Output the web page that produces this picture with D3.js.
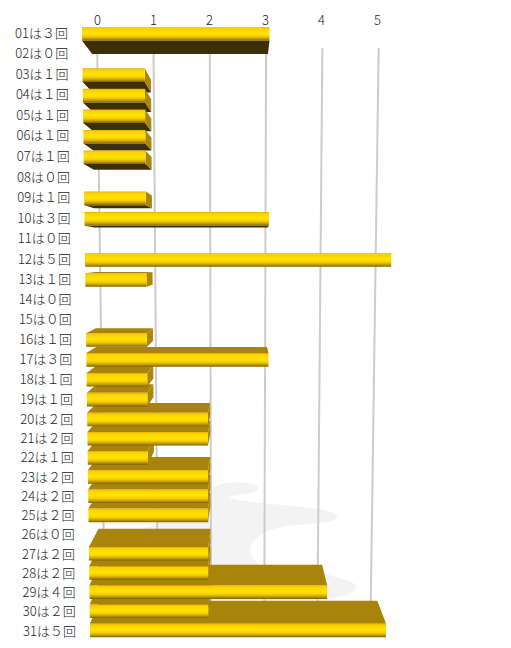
<!DOCTYPE html>
<html><head><meta charset="utf-8">
<script src="https://cdn.jsdelivr.net/npm/d3@7/dist/d3.min.js"></script>
<style>html,body{margin:0;padding:0;background:#fff}svg{display:block}
text{font-family:"Noto Sans CJK JP","Noto Sans",sans-serif;fill:#222;font-size:13px;font-weight:300}</style>
</head><body><svg id="c" width="511" height="648"></svg>
<script>
const days = ["01","02","03","04","05","06","07","08","09","10","11","12","13","14","15","16","17","18","19","20","21","22","23","24","25","26","27","28","29","30","31"];
const counts = [3,0,1,1,1,1,1,0,1,3,0,5,1,0,0,1,3,1,1,2,2,1,2,2,2,0,2,2,4,2,5];
const tickValues = [0,1,2,3,4,5];
const wideDigits = ["０","１","２","３","４","５"];

const svg = d3.select("#c");
const rowIndex = d3.scaleOrdinal().domain(days).range(d3.range(days.length));
const rowPos = d3.scaleLinear().domain([0,11,15,19,30]).range([34,260,340,419.5,630.5]);
const rowY = d => rowPos(rowIndex(d));
const labelY = d3.scaleLinear().domain([34,630.5]).range([37.5,635.5]);
const x0At = d3.scaleLinear().domain([34, 630.5]).range([82, 90]);
const unitAt = d3.scaleLinear().domain([34, 630.5]).range([62.5, 59.2]);
const V = {x: 245, y: 255};
const barDepth = 0.062, wallDepth = 0.1;
const front = (v, y) => [x0At(y) + v * unitAt(y), y];
const toward = (p, k) => [p[0] + k * (V.x - p[0]), p[1] + k * (V.y - p[1])];
const poly = pts => "M" + pts.map(p => p.join(",")).join("L") + "Z";

const defs = svg.append("defs");
const g = defs.append("linearGradient").attr("id","gold").attr("x1",0).attr("y1",0).attr("x2",0).attr("y2",1);
[[0,"#dcae00"],[0.1,"#ffcf00"],[0.45,"#ffe400"],[0.65,"#f8d000"],[0.85,"#c09a08"],[1,"#7a6008"]]
  .forEach(([o,c]) => g.append("stop").attr("offset",o).attr("stop-color",c));

// faint watermark behind the chart
svg.append("path").attr("fill","#f3f3f3")
  .attr("d","M135 535C150 518 185 525 210 492C215 480 250 480 258 487C262 495 230 494 228 498C260 506 335 505 338 517C335 526 290 522 270 530C250 538 240 555 265 568C285 574 320 570 335 577C348 580 356 582 356 588C350 602 300 600 250 600L135 600Z");

// back-wall grid lines
const gridTop = 25, gridBottom = 640;
svg.append("g").selectAll("line").data(tickValues).join("line")
  .attr("x1", v => toward(front(v, gridTop), wallDepth)[0] - 1)
  .attr("y1", v => toward(front(v, gridTop), wallDepth)[1])
  .attr("x2", v => toward(front(v, gridBottom), wallDepth)[0] - 1)
  .attr("y2", v => toward(front(v, gridBottom), wallDepth)[1])
  .attr("stroke","#cccccc").attr("stroke-width",2);

// top axis
const axisX = d3.scaleLinear().domain([0,5]).range([97,377]);
const ax = svg.append("g").attr("transform","translate(0,25)")
  .call(d3.axisTop(axisX).tickValues(tickValues).tickSize(0).tickPadding(0).tickFormat(d3.format("d")));
ax.select(".domain").remove();
ax.selectAll("text").style("font-size","13px").style("font-family",'"Noto Sans CJK JP"');

// labels
svg.append("g").selectAll("text").data(days).join("text")
  .attr("x", d => x0At(rowY(d)) - 14)
  .attr("y", d => labelY(rowY(d)))
  .attr("text-anchor","end")
  .text((d,i) => d + "は" + wideDigits[counts[i]] + "回");

// bars, outermost from the vanishing row first
const half = 6.8;
const bars = days.map((d,i) => ({d, v: counts[i], y: rowY(d)})).filter(b => b.v > 0)
  .sort((a,b) => Math.abs(b.y - V.y) - Math.abs(a.y - V.y));
const layer = svg.append("g");
bars.forEach(b => {
  const tl = front(0, b.y - half), tr = front(b.v, b.y - half),
        bl = front(0, b.y + half), br = front(b.v, b.y + half);
  const [btl,btr,bbl,bbr] = [tl,tr,bl,br].map(p => toward(p, barDepth));
  if (b.y + half < V.y) layer.append("path").attr("d", poly([bl,br,bbr,bbl])).attr("fill","#3d2f0a");
  if (b.y - half > V.y) layer.append("path").attr("d", poly([tl,tr,btr,btl])).attr("fill","#a9840a");
  if (tr[0] < V.x) layer.append("path").attr("d", poly([tr,btr,bbr,br])).attr("fill","#ab860a");
  layer.append("path").attr("d", poly([tl,tr,br,bl])).attr("fill","url(#gold)");
});
</script></body></html>
